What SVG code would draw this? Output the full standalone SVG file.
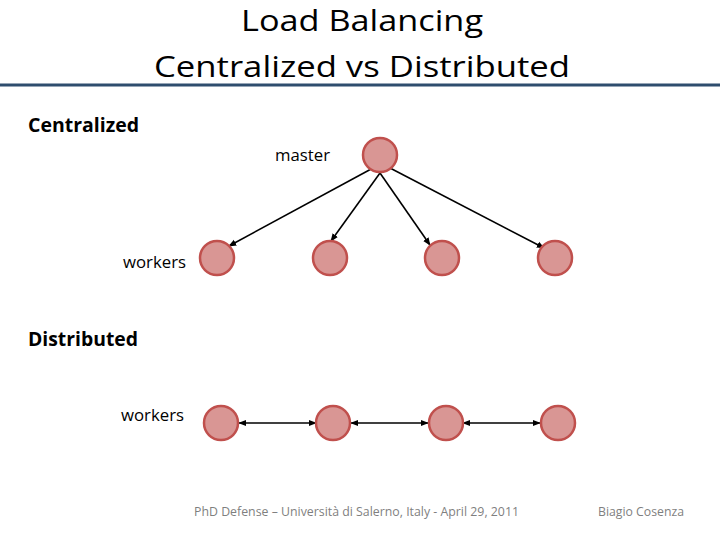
<svg xmlns="http://www.w3.org/2000/svg" width="720" height="540" viewBox="0 0 720 540">
<defs>
<marker id="ah" viewBox="0 0 10 10" refX="9" refY="5" markerWidth="8" markerHeight="8" orient="auto-start-reverse" markerUnits="userSpaceOnUse">
<path d="M0,1 L10,5 L0,9 z" fill="#000"/>
</marker>
<style>
.n{fill:#d99694;stroke:#c0504d;stroke-width:2.5}
.e{stroke:#000;stroke-width:1.6;fill:none;marker-end:url(#ah)}
.b{marker-start:url(#ah)}
.t{font-family:"Open Sans","Liberation Sans",sans-serif;fill:#000}
.f{font-family:"Open Sans","Liberation Sans",sans-serif;fill:#7f7f7f;font-size:12px}
</style>
</defs>
<rect width="720" height="540" fill="#fff"/>
<text class="t" x="362" y="31" font-size="30" text-anchor="middle" textLength="242" lengthAdjust="spacingAndGlyphs">Load Balancing</text>
<text class="t" x="362" y="77" font-size="30" text-anchor="middle" textLength="416" lengthAdjust="spacingAndGlyphs">Centralized vs Distributed</text>
<line x1="0" y1="85" x2="720" y2="85" stroke="#2e4d6e" stroke-width="3"/>
<text class="t" x="28" y="132" font-size="20" font-weight="bold" textLength="111" lengthAdjust="spacingAndGlyphs">Centralized</text>
<text class="t" x="275" y="161" font-size="16" textLength="55" lengthAdjust="spacingAndGlyphs">master</text>
<text class="t" x="123" y="268" font-size="16" textLength="63" lengthAdjust="spacingAndGlyphs">workers</text>
<text class="t" x="28" y="346" font-size="20" font-weight="bold" textLength="110" lengthAdjust="spacingAndGlyphs">Distributed</text>
<text class="t" x="121" y="421" font-size="16" textLength="63" lengthAdjust="spacingAndGlyphs">workers</text>
<g id="connectors">
<line class="e" x1="373" y1="168" x2="229" y2="246"/>
<line class="e" x1="380" y1="173" x2="331" y2="241"/>
<line class="e" x1="380" y1="173" x2="430" y2="245"/>
<line class="e" x1="390" y1="168" x2="544" y2="248"/>
<line class="e b" x1="239" y1="423" x2="316" y2="423"/>
<line class="e b" x1="351" y1="423" x2="428" y2="423"/>
<line class="e b" x1="463" y1="423" x2="540" y2="423"/>
</g>
<g id="master"><circle class="n" cx="380" cy="155" r="17"/></g>
<g id="w1"><circle class="n" cx="217" cy="258" r="17"/></g>
<g id="w2"><circle class="n" cx="330" cy="258" r="17"/></g>
<g id="w3"><circle class="n" cx="442" cy="258" r="17"/></g>
<g id="w4"><circle class="n" cx="555" cy="258" r="17"/></g>
<g id="d1"><circle class="n" cx="221" cy="423" r="17"/></g>
<g id="d2"><circle class="n" cx="333" cy="423" r="17"/></g>
<g id="d3"><circle class="n" cx="446" cy="423" r="17"/></g>
<g id="d4"><circle class="n" cx="558" cy="423" r="17"/></g>
<text class="f" x="194" y="516" textLength="325" lengthAdjust="spacingAndGlyphs">PhD Defense – Università di Salerno, Italy - April 29, 2011</text>
<text class="f" x="598" y="516" textLength="86" lengthAdjust="spacingAndGlyphs">Biagio Cosenza</text>
</svg>
